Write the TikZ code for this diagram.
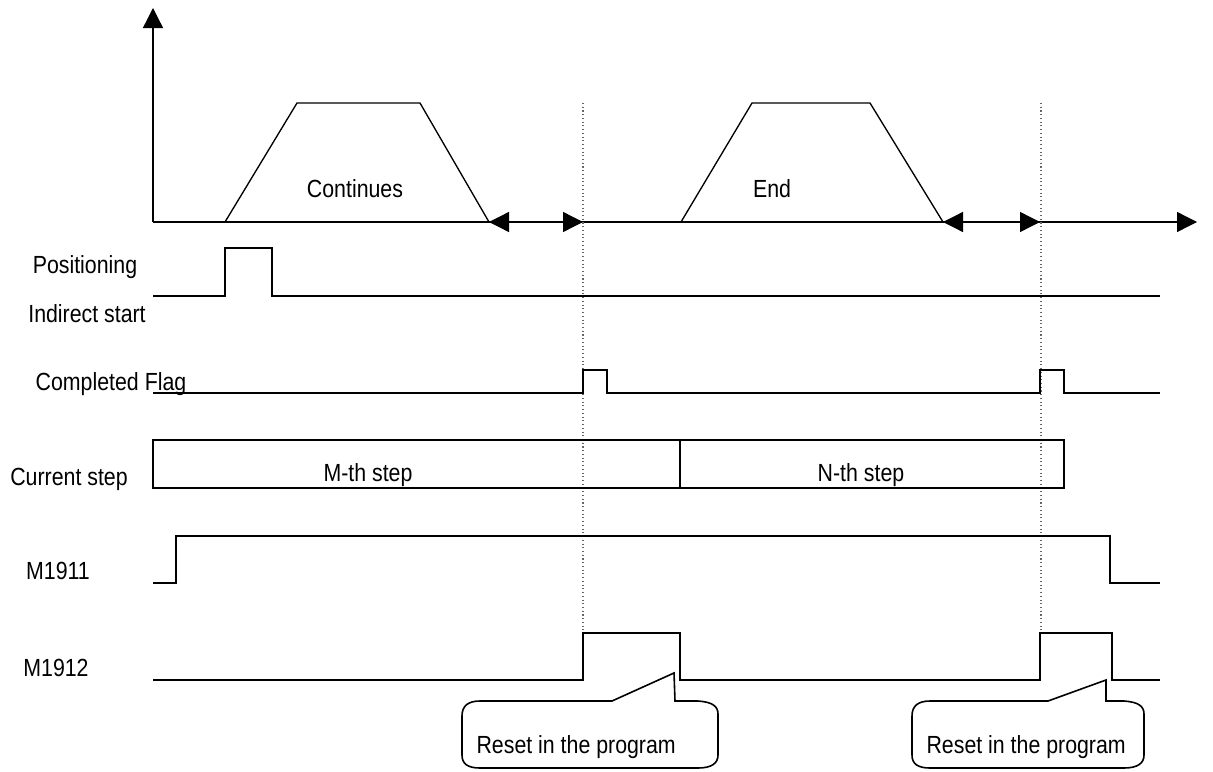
\documentclass[tikz,border=0pt]{standalone}
\usepackage{fontspec}
\setmainfont{Liberation Sans}[FakeStretch=0.86]
\usetikzlibrary{arrows.meta}

\begin{document}
\begin{tikzpicture}[x=0.75pt,y=-0.75pt,
            sig/.style={line width=1pt},
            lbl/.style={font=\fontsize{18.6}{22}\selectfont, anchor=base, inner sep=0pt},
            arr/.style={{Triangle[length=15pt,width=15pt]}-{Triangle[length=15pt,width=15pt]}, line width=1pt},
            tip/.style={-{Triangle[length=15pt,width=15pt]}, line width=1pt},
            guide/.style={dotted, gray!80!black, line width=0.8pt},
            note/.style={line width=1.2pt, fill=white}
          ]
            \useasboundingbox (0,0) rectangle (1213,771);
            % axes
            \coordinate (o) at (153,222);
            \coordinate (ytop) at (153,8);
            \coordinate (xend) at (1197,222);
            \draw[tip] (o) -- (ytop);
            \draw[tip] (o) -- (xend);
            % speed profiles
            \coordinate (m1) at (489,222);
            \coordinate (m2) at (583,222);
            \coordinate (n1) at (943,222);
            \coordinate (n2) at (1040,222);
            \draw[sig] (225,222) -- (297,103) -- (420,103) -- (m1);
            \draw[sig] (681,222) -- (752,103) -- (870,103) -- (n1);
            \draw[arr] (m1) -- (m2);
            \draw[arr] (n1) -- (n2);
            \node[lbl] (cont) at (355,197) {Continues};
            \node[lbl] (end)  at (772,197) {End};
            % guides
            \draw[guide] (583,103) -- (583,633);
            \draw[guide] (1041,103) -- (1041,633);
            % signals
            \node[lbl] (pos)  at (85,273)  {Positioning};
            \node[lbl] (ind)  at (87,322)  {Indirect start};
            \draw[sig] (153,296) -- (225,296) -- (225,248) -- (272,248) -- (272,296) -- (1160,296);
            \node[lbl] (flag) at (111,390) {Completed Flag};
            \draw[sig] (153,393) -- (583,393) -- (583,370) -- (607,370) -- (607,393)
                       -- (1040,393) -- (1040,370) -- (1064,370) -- (1064,393) -- (1160,393);
            \node[lbl] (cur)  at (69,485)  {Current step};
            \draw[sig] (153,440) rectangle (1064,488);
            \draw[sig] (680,440) -- (680,488);
            \node[lbl] (mth)  at (368,481) {M-th step};
            \node[lbl] (nth)  at (861,481) {N-th step};
            \node[lbl] (m11)  at (58,579)  {M1911};
            \draw[sig] (153,583) -- (176,583) -- (176,536) -- (1110,536) -- (1110,583) -- (1160,583);
            \node[lbl] (m12)  at (56,676)  {M1912};
            \draw[sig] (153,680) -- (583,680) -- (583,633) -- (680,633) -- (680,680)
                       -- (1040,680) -- (1040,633) -- (1112,633) -- (1112,680) -- (1160,680);
            % callouts
            \draw[note] (612,701) -- (674,673) -- (675,701) -- (698,701)
                        .. controls (712,702) and (718,706) .. (718,714) -- (718,755)
                        .. controls (718,763) and (712,768) .. (698,768) -- (480,768)
                        .. controls (468,768) and (462,764) .. (462,755) -- (462,716)
                        .. controls (462,706) and (468,701) .. (480,701) -- cycle;
            \draw[note] (1048,701) -- (1106,680) -- (1106,701) -- (1124,701)
                        .. controls (1138,702) and (1144,706) .. (1144,714) -- (1144,755)
                        .. controls (1144,763) and (1138,768) .. (1124,768) -- (930,768)
                        .. controls (918,768) and (912,764) .. (912,755) -- (912,716)
                        .. controls (912,706) and (918,701) .. (930,701) -- cycle;
            \node[lbl, anchor=base east] (rst1) at (676,753) {Reset in the program};
            \node[lbl, anchor=base east] (rst2) at (1126,753) {Reset in the program};
          \end{tikzpicture}
\end{document}
